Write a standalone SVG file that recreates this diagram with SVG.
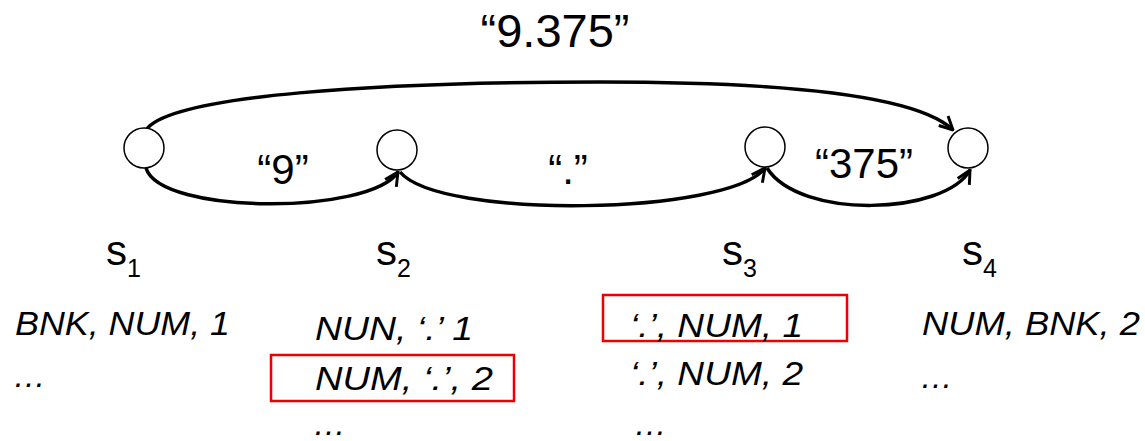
<svg xmlns="http://www.w3.org/2000/svg" width="1145" height="441" viewBox="0 0 1145 441">
<style>
.node{fill:#fff;stroke:#000;stroke-width:1.5}
.edge{fill:none;stroke:#000;stroke-width:3.5}
.lbl{font-family:"Liberation Sans",Arial,sans-serif;font-size:42px;fill:#000}
.top{font-family:"Liberation Sans",Arial,sans-serif;font-size:47px;fill:#000}
.st{font-family:"Liberation Sans",Arial,sans-serif;font-size:42px;fill:#000}
.sub{font-size:25px}
.row{font-family:"Liberation Sans",Arial,sans-serif;font-style:italic;font-size:33px;fill:#000}
.box{fill:none;stroke:#e00;stroke-width:2.5}
</style>
<defs>
<marker id="arr" viewBox="0 0 12 12" refX="11" refY="6" markerWidth="16" markerHeight="16" markerUnits="userSpaceOnUse" orient="auto">
<path d="M1,1 L11,6 L1,11" fill="none" stroke="#000" stroke-width="2.2"/>
</marker>
</defs>
<g id="connectors">
<path class="edge" d="M146,130 C170,95 380,82 600,82 C800,82 920,98 953,130" marker-end="url(#arr)"/>
<path class="edge" d="M146,168 C160,215 370,215 398,172" marker-end="url(#arr)"/>
<path class="edge" d="M400,172 C440,220 730,215 765,168" marker-end="url(#arr)"/>
<path class="edge" d="M767,168 C800,220 945,215 970,170" marker-end="url(#arr)"/>
</g>
<text class="top" x="555" y="47" text-anchor="middle">“9.375”</text>
<text class="lbl" x="283" y="184" text-anchor="middle">“9”</text>
<text class="lbl" x="568" y="184" text-anchor="middle">“.”</text>
<text class="lbl" x="864" y="178" text-anchor="middle">“375”</text>
<g id="s1">
<circle class="node" cx="144" cy="148" r="20"/>
<text class="st" x="106" y="265">s<tspan class="sub" dy="12">1</tspan></text>
<text class="row" x="15" y="335" textLength="215" lengthAdjust="spacingAndGlyphs">BNK, NUM, 1</text>
<text class="row" x="13" y="387">…</text>
</g>
<g id="s2">
<circle class="node" cx="397" cy="150" r="20"/>
<text class="st" x="376" y="265">s<tspan class="sub" dy="12">2</tspan></text>
<text class="row" x="315" y="340" textLength="158" lengthAdjust="spacingAndGlyphs">NUN, ‘.’ 1</text>
<rect class="box" x="271" y="355" width="243" height="46"/>
<text class="row" x="315" y="390" textLength="178" lengthAdjust="spacingAndGlyphs">NUM, ‘.’, 2</text>
<text class="row" x="313" y="435">…</text>
</g>
<g id="s3">
<circle class="node" cx="765" cy="147" r="20"/>
<text class="st" x="722" y="265">s<tspan class="sub" dy="12">3</tspan></text>
<rect class="box" x="603" y="295" width="244" height="46"/>
<text class="row" x="630" y="337" textLength="173" lengthAdjust="spacingAndGlyphs">‘.’, NUM, 1</text>
<text class="row" x="630" y="385" textLength="173" lengthAdjust="spacingAndGlyphs">‘.’, NUM, 2</text>
<text class="row" x="634" y="435">…</text>
</g>
<g id="s4">
<circle class="node" cx="968" cy="148" r="20"/>
<text class="st" x="962" y="265">s<tspan class="sub" dy="12">4</tspan></text>
<text class="row" x="922" y="335" textLength="218" lengthAdjust="spacingAndGlyphs">NUM, BNK, 2</text>
<text class="row" x="920" y="388">…</text>
</g>
</svg>
